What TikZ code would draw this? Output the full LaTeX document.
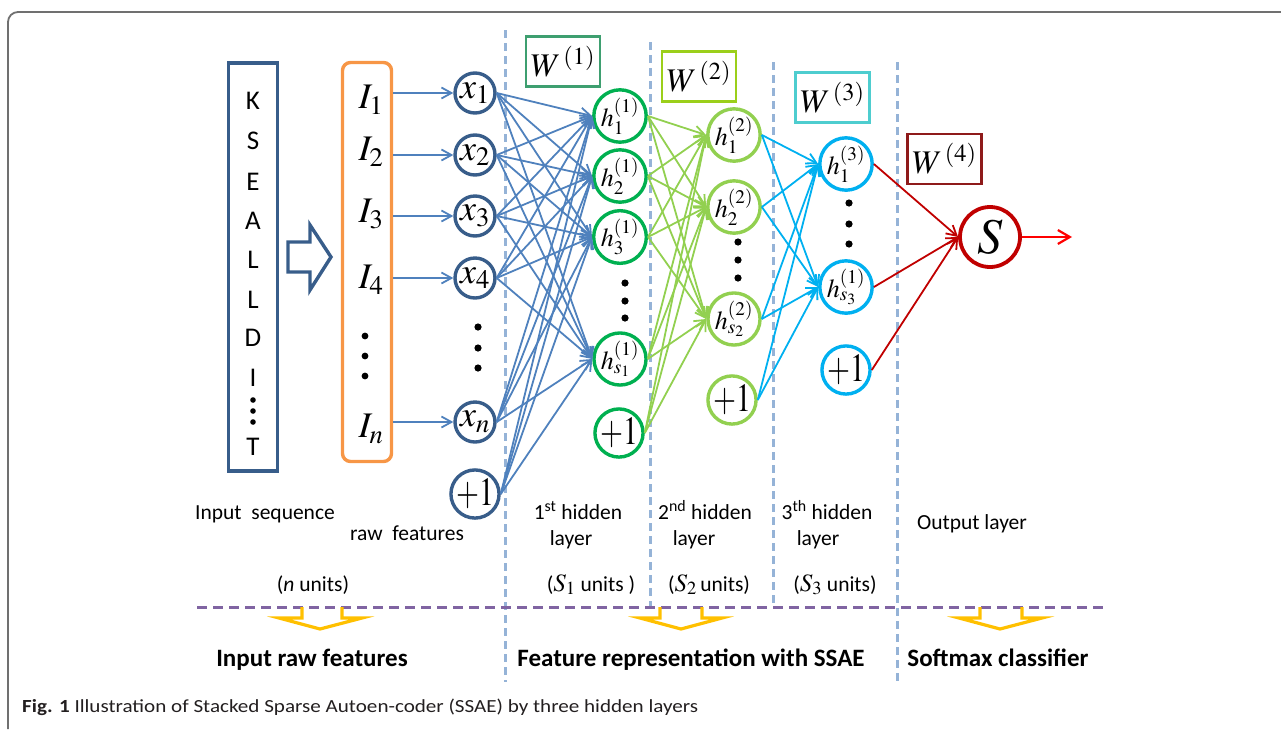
\documentclass[tikz,border=0pt]{standalone}
\usepackage{mathptmx}
\usepackage[no-math]{fontspec}
\setmainfont{Carlito}
\usepackage{graphicx}
\usetikzlibrary{arrows.meta}

\definecolor{navy}{HTML}{385D8A}
\definecolor{accblue}{HTML}{4F81BD}
\definecolor{orng}{HTML}{F79646}
\definecolor{grn}{HTML}{00B050}
\definecolor{lgrn}{HTML}{92D050}
\definecolor{cyn}{HTML}{00B0F0}
\definecolor{dred}{HTML}{C00000}
\definecolor{sepblue}{HTML}{95B3D7}
\definecolor{purp}{HTML}{8064A2}
\definecolor{gold}{HTML}{FFC000}
\definecolor{wone}{HTML}{3E9F70}
\definecolor{wtwo}{HTML}{9BCF1A}
\definecolor{wthree}{HTML}{4ECDCF}
\definecolor{wfour}{HTML}{8E1A1A}
\definecolor{framegray}{HTML}{707070}
\definecolor{captext}{HTML}{231F20}

\tikzset{
  unitc/.style={circle, draw, line width=3.4pt, fill=white, minimum size=40pt, inner sep=0pt},
  xunit/.style={unitc, draw=navy, font=\fontsize{36}{40}\selectfont},
  hone/.style={unitc, draw=grn, font=\fontsize{26}{30}\selectfont},
  htwo/.style={unitc, draw=lgrn, minimum size=38pt, font=\fontsize{26}{30}\selectfont},
  hthree/.style={unitc, draw=cyn, minimum size=39pt, font=\fontsize{26}{30}\selectfont},
  biasc/.style={font=\fontsize{40}{44}\selectfont},
  wbox/.style={draw, line width=2.5pt, minimum width=74pt, minimum height=50pt, inner sep=0pt, font=\fontsize{33}{36}\selectfont},
  ilab/.style={inner sep=0pt, font=\fontsize{36}{40}\selectfont},
  seqch/.style={inner sep=0pt, font=\fontsize{27}{30}\selectfont},
  lbl/.style={inner sep=0pt, font=\fontsize{21.5}{26}\selectfont},
  blbl/.style={inner sep=0pt, font=\fontsize{25}{30}\selectfont\bfseries},
  tip/.style={-{Straight Barb[length=10pt,width=11pt]}},
  linkx/.style={tip, accblue, line width=1.8pt},
  linkone/.style={tip, lgrn, line width=1.8pt},
  linktwo/.style={tip, cyn, line width=1.8pt},
  linkout/.style={tip, dred, line width=1.8pt},
  sepline/.style={sepblue, line width=3pt, dash pattern=on 8pt off 5pt},
  hollow/.style={gold, line width=3.2pt, line join=miter},
  dot/.style={fill=black}
}

\newcommand{\bias}{\scalebox{0.74}[1]{$+1$}}
\newcommand{\wlab}[1]{$W^{\,(#1)}$}

\begin{document}
\begin{tikzpicture}[x=1pt,y=-1pt]
\useasboundingbox (0,0) rectangle (1281,729);

% outer frame
\draw[framegray, line width=1.8pt, rounded corners=10pt] (1281,12) -- (8,12) -- (8,729);

% layer separators
\draw[sepline] (505,30) -- (505,682);
\draw[sepline] (650,42) -- (650,607);
\draw[sepline] (773,62) -- (773,607);
\draw[sepline] (897,62) -- (897,682);
\draw[purp, line width=3pt, dash pattern=on 10pt off 6pt] (197,607) -- (1103,607);

% input sequence
\node[draw=navy, line width=3.4pt, minimum width=49pt, minimum height=408pt, inner sep=0pt] (seq) at (253,267) {};
\foreach \ch/\yy [count=\i] in {K/101,S/141,E/182,A/221,L/260,L/300,D/338,I/378,T/447}
  \node[seqch] (c\i) at (253,\yy) {\ch};
\foreach \yy in {400,411,422} \fill[dot] (253,\yy) circle (2.8pt);

% hollow arrow
\draw[navy, line width=3.4pt, line join=miter] (288,242) -- (310,242) -- (310,225) -- (331,257) -- (310,290) -- (310,272) -- (288,272) -- cycle;

% raw features box
\node[draw=orng, line width=3.4pt, rounded corners=8pt, minimum width=49pt, minimum height=399pt, inner sep=0pt] (raw) at (367,262) {};
\node[ilab] (I1) at (371,100) {$I_1$};
\node[ilab] (I2) at (371,152) {$I_2$};
\node[ilab] (I3) at (371,214) {$I_3$};
\node[ilab] (I4) at (371,280) {$I_4$};
\node[ilab] (In) at (371,429) {$I_n$};
\foreach \yy in {336,356,376} \fill[dot] (365,\yy) circle (3.4pt);

% input units
\node[xunit] (x1) at (475,93) {$x_1$};
\node[xunit] (x2) at (475,155) {$x_2$};
\node[xunit] (x3) at (475,216) {$x_3$};
\node[xunit] (x4) at (475,278) {$x_4$};
\node[xunit] (xn) at (475,422) {$x_n$};
\node[xunit, biasc] (xb) at (475,494) {\bias};
\foreach \yy in {327,348,368} \fill[dot] (478,\yy) circle (3.6pt);

\foreach \a in {x1,x2,x3,x4,xn}
  \draw[linkx] (raw.east |- \a.west) -- (\a.west);

% first hidden layer
\node[hone] (ha) at (620,116) {$h_1^{(1)}$};
\node[hone] (hb) at (620,176) {$h_2^{(1)}$};
\node[hone] (hc) at (620,237) {$h_3^{(1)}$};
\node[hone] (hs) at (620,359) {$h_{s_1}^{(1)}$};
\node[hone, biasc] (hbias) at (619,433) {\bias};
\foreach \yy in {283,301,318} \fill[dot] (625,\yy) circle (3.6pt);

% second hidden layer
\node[htwo] (ga) at (734,135) {$h_1^{(2)}$};
\node[htwo] (gb) at (734,207) {$h_2^{(2)}$};
\node[htwo] (gs) at (734,319) {$h_{s_2}^{(2)}$};
\node[htwo, biasc] (gbias) at (732,400) {\bias};
\foreach \yy in {242,260,278} \fill[dot] (738,\yy) circle (3.6pt);

% third hidden layer
\node[hthree] (ka) at (846,164) {$h_1^{(3)}$};
\node[hthree] (ks) at (846,287) {$h_{s_3}^{(1)}$};
\node[hthree, biasc] (kbias) at (846,370) {\bias};
\foreach \yy in {203,224,244} \fill[dot] (849,\yy) circle (3.6pt);

% output unit
\node[unitc, draw=dred, line width=3.8pt, minimum size=60pt, font=\fontsize{50}{54}\selectfont] (S) at (990,237) {$S$};
\coordinate (out) at (1072,237);
\draw[-{Straight Barb[length=12pt,width=14pt]}, red, line width=2.2pt] (S.east) -- (out);

% weight labels
\node[wbox, draw=wone] (w1) at (563,61.5) {\wlab{1}};
\node[wbox, draw=wtwo] (w2) at (699,76.5) {\wlab{2}};
\node[wbox, draw=wthree] (w3) at (832.5,97.5) {\wlab{3}};
\node[wbox, draw=wfour] (w4) at (944.5,159) {\wlab{4}};

% connections
\foreach \a in {x1,x2,x3,x4,xn,xb}
  \foreach \b in {ha,hb,hc,hs}
    \draw[linkx] (\a.east) -- (\b.west);
\foreach \a in {ha,hb,hc,hs,hbias}
  \foreach \b in {ga,gb,gs}
    \draw[linkone] (\a.east) -- (\b.west);
\foreach \a in {ga,gb,gs,gbias}
  \foreach \b in {ka,ks}
    \draw[linktwo] (\a.east) -- (\b.west);
\foreach \a in {ka,ks,kbias}
  \draw[linkout] (\a.east) -- (S.west);

% layer captions
\node[lbl, anchor=base] (t1) at (265,519) {Input\ \ sequence};
\node[lbl, anchor=base] (t2) at (407,540) {raw\ \ features};
\node[lbl, anchor=base] (t3) at (313,591) {(\textit{n} units)};
\node[lbl, anchor=base] (t4) at (578,519) {1\textsuperscript{st} hidden};
\node[lbl, anchor=base] (t5) at (571,545) {layer};
\node[lbl, anchor=base] (t6) at (591,591) {({\fontsize{25}{28}\selectfont$S_1$} units )};
\node[lbl, anchor=base] (t7) at (705,519) {2\textsuperscript{nd} hidden};
\node[lbl, anchor=base] (t8) at (694,545) {layer};
\node[lbl, anchor=base] (t9) at (709,591) {({\fontsize{25}{28}\selectfont$S_2$}\,units)};
\node[lbl, anchor=base] (t10) at (827,519) {3\textsuperscript{th} hidden};
\node[lbl, anchor=base] (t11) at (818,545) {layer};
\node[lbl, anchor=base] (t12) at (835,591) {({\fontsize{25}{28}\selectfont$S_3$} units)};
\node[lbl, anchor=base] (t13) at (972,529) {Output layer};

% stage arrows
\draw[hollow] (302,607) -- (302,618) -- (279,618) -- (320,629) -- (362,618) -- (342,618) -- (342,607);
\draw[hollow] (660,607) -- (660,618) -- (640,618) -- (681,629) -- (722,618) -- (702,618) -- (702,607);
\draw[hollow] (980,607) -- (980,618) -- (959,618) -- (1000,629) -- (1042,618) -- (1022,618) -- (1022,607);

\node[blbl, anchor=base] (s1) at (312,666) {Input raw features};
\node[blbl, anchor=base] (s2) at (691,666) {Feature representation with SSAE};
\node[blbl, anchor=base] (s3) at (998,666) {Softmax classifier};

% figure caption
\node[anchor=base west, inner sep=0pt, text=captext, font=\fontsize{18.5}{22}\selectfont] (cap) at (22,712)
  {\resizebox{676pt}{\height}{\textbf{Fig. 1} Illustration of Stacked Sparse Autoen-coder (SSAE) by three hidden layers}};
\end{tikzpicture}
\end{document}
